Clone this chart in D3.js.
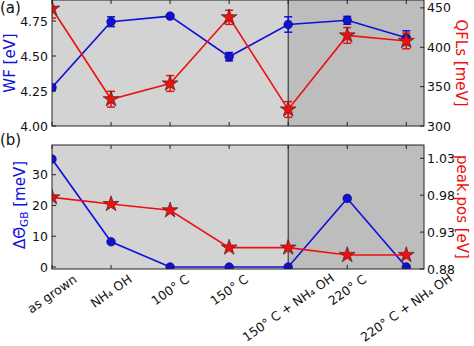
<!DOCTYPE html>
<html><head><meta charset="utf-8">
<script src="https://cdn.jsdelivr.net/npm/d3@7"></script>
<style>body{margin:0;background:#fff}svg{display:block;font-family:"DejaVu Sans",sans-serif}</style>
</head><body><svg id="c" width="474" height="346"></svg>
<script>
const categories = ["as grown","NH₄ OH","100° C","150° C","150° C + NH₄ OH","220° C","220° C + NH₄ OH"];
const wf      = [4.275, 4.745, 4.785, 4.495, 4.725, 4.755, 4.630];
const wfErr   = [0.02, 0.035, 0.01, 0.03, 0.055, 0.028, 0.05];
const qfl     = [449, 334, 354, 438, 321, 415, 408];
const qflErr  = [12, 10, 10, 9, 10, 10, 10];
const dtheta  = [35.1, 8.2, 0, 0, 0, 22.3, 0];
const peak    = [0.977, 0.968, 0.9595, 0.909, 0.909, 0.899, 0.899];
const wfTicks = [4.00, 4.25, 4.50, 4.75];
const qflTicks = [300, 350, 400, 450];
const dtTicks = [0, 10, 20, 30];
const pkTicks = [0.88, 0.93, 0.98, 1.03];

const BLUE = "#1010d8", RED = "#ee1010";
const svg = d3.select("#c");
const L = 52, R = 424;
const x = d3.scaleLinear().domain([0, 6.3]).range([L, R]);

function panel(id, top, bottom, yl, yr, lData, lErr, rData, rErr, lTicks, rTicks, lFmt, rFmt) {
  const g = svg.append("g");
  svg.append("clipPath").attr("id", "clip" + id)
    .append("rect").attr("x", L).attr("y", top).attr("width", R - L).attr("height", bottom - top);
  g.append("rect").attr("x", x(0)).attr("y", top).attr("width", x(4) - x(0)).attr("height", bottom - top).attr("fill", "#d3d3d3");
  g.append("rect").attr("x", x(4)).attr("y", top).attr("width", x(6.3) - x(4)).attr("height", bottom - top).attr("fill", "#bdbdbd");
  g.append("line").attr("x1", x(4)).attr("x2", x(4)).attr("y1", top).attr("y2", bottom).attr("stroke", "#222").attr("stroke-width", 1);
  const ys = d3.scaleLinear().domain(yl).range([bottom, top]);
  const yr2 = d3.scaleLinear().domain(yr).range([bottom, top]);
  const pg = g.append("g").attr("clip-path", `url(#clip${id})`);
  const idx = d3.range(categories.length);
  function series(data, err, sc, color, kind) {
    pg.append("path").datum(idx).attr("fill", "none").attr("stroke", color).attr("stroke-width", 1.6)
      .attr("d", d3.line().x(i => x(i)).y(i => sc(data[i])));
    if (err) {
      idx.forEach(i => {
        const y1 = sc(data[i] - err[i]), y2 = sc(data[i] + err[i]);
        pg.append("line").attr("x1", x(i)).attr("x2", x(i)).attr("y1", y1).attr("y2", y2).attr("stroke", color).attr("stroke-width", 1.5);
        [y1, y2].forEach(yy => pg.append("line").attr("x1", x(i) - 4).attr("x2", x(i) + 4).attr("y1", yy).attr("y2", yy).attr("stroke", color).attr("stroke-width", 1.5));
      });
    }
    idx.forEach(i => {
      if (kind === "circle") {
        pg.append("circle").attr("cx", x(i)).attr("cy", sc(data[i])).attr("r", 4.3).attr("fill", color).attr("stroke", "#000060").attr("stroke-width", 0.6);
      } else {
        pg.append("path").attr("transform", `translate(${x(i)},${sc(data[i])})`)
          .attr("d", d3.symbol().type(d3.symbolStar).size(78)()).attr("fill", color).attr("stroke", "#502020").attr("stroke-width", 0.7);
      }
    });
  }
  series(lData, lErr, ys, BLUE, "circle");
  series(rData, rErr, yr2, RED, "star");
  g.append("rect").attr("x", L).attr("y", top).attr("width", R - L).attr("height", bottom - top).attr("fill", "none").attr("stroke", "#222").attr("stroke-width", 1);
  const tk = g.append("g").attr("stroke", "#222").attr("stroke-width", 1);
  idx.forEach(i => {
    tk.append("line").attr("x1", x(i)).attr("x2", x(i)).attr("y1", bottom).attr("y2", bottom - 4);
    tk.append("line").attr("x1", x(i)).attr("x2", x(i)).attr("y1", top).attr("y2", top + 4);
  });
  lTicks.forEach(v => {
    tk.append("line").attr("x1", L).attr("x2", L + 4).attr("y1", ys(v)).attr("y2", ys(v));
    g.append("text").attr("x", L - 4).attr("y", ys(v)).attr("dy", "0.36em").attr("text-anchor", "end").attr("font-size", 12.5).attr("fill", "#111").text(lFmt(v));
  });
  rTicks.forEach(v => {
    tk.append("line").attr("x1", R).attr("x2", R - 4).attr("y1", yr2(v)).attr("y2", yr2(v));
    g.append("text").attr("x", R + 3).attr("y", yr2(v)).attr("dy", "0.36em").attr("text-anchor", "start").attr("font-size", 12.5).attr("fill", "#111").text(rFmt(v));
  });
  return g;
}

panel("a", 0, 126, [4.0, 4.9], [300, 460], wf, wfErr, qfl, qflErr, wfTicks, qflTicks, d3.format(".2f"), d3.format("d"));
panel("b", 145, 269, [-0.65, 39.65], [0.88, 1.048], dtheta, null, peak, null, dtTicks, pkTicks, d3.format("d"), d3.format(".2f"));

svg.append("text").attr("x", 0).attr("y", 13).attr("font-size", 15).attr("fill", "#111").text("(a)");
svg.append("text").attr("x", 0).attr("y", 145).attr("font-size", 15).attr("fill", "#111").text("(b)");

svg.append("text").attr("transform", "translate(15,63) rotate(-90)").attr("text-anchor", "middle").attr("font-size", 15).attr("fill", BLUE).text("WF [eV]");
svg.append("text").attr("transform", "translate(456,63) rotate(90)").attr("text-anchor", "middle").attr("font-size", 15).attr("fill", RED).text("QFLs [meV]");
const lb = svg.append("text").attr("transform", "translate(25,205) rotate(-90)").attr("text-anchor", "middle").attr("font-size", 15).attr("fill", BLUE);
lb.append("tspan").text("ΔΘ\u0303");
lb.append("tspan").attr("font-size", 10.5).attr("dy", 3).text("GB");
lb.append("tspan").attr("dy", -3).text(" [meV]");
svg.append("text").attr("transform", "translate(457,207) rotate(90)").attr("text-anchor", "middle").attr("font-size", 15).attr("fill", RED).text("peak.pos [eV]");

const th = 35 * Math.PI / 180;
categories.forEach((c, i) => {
  const t = svg.append("text").attr("font-size", 12.5).attr("fill", "#111").attr("text-anchor", "middle").attr("dominant-baseline", "central").text(c);
  const w = t.node().getComputedTextLength();
  const h = 13.5;
  const H = w * Math.sin(th) + h * Math.cos(th);
  t.attr("transform", `translate(${x(i)},${Math.min(272 + H / 2, 344 - H / 2)}) rotate(-35)`);
});
</script></body></html>
